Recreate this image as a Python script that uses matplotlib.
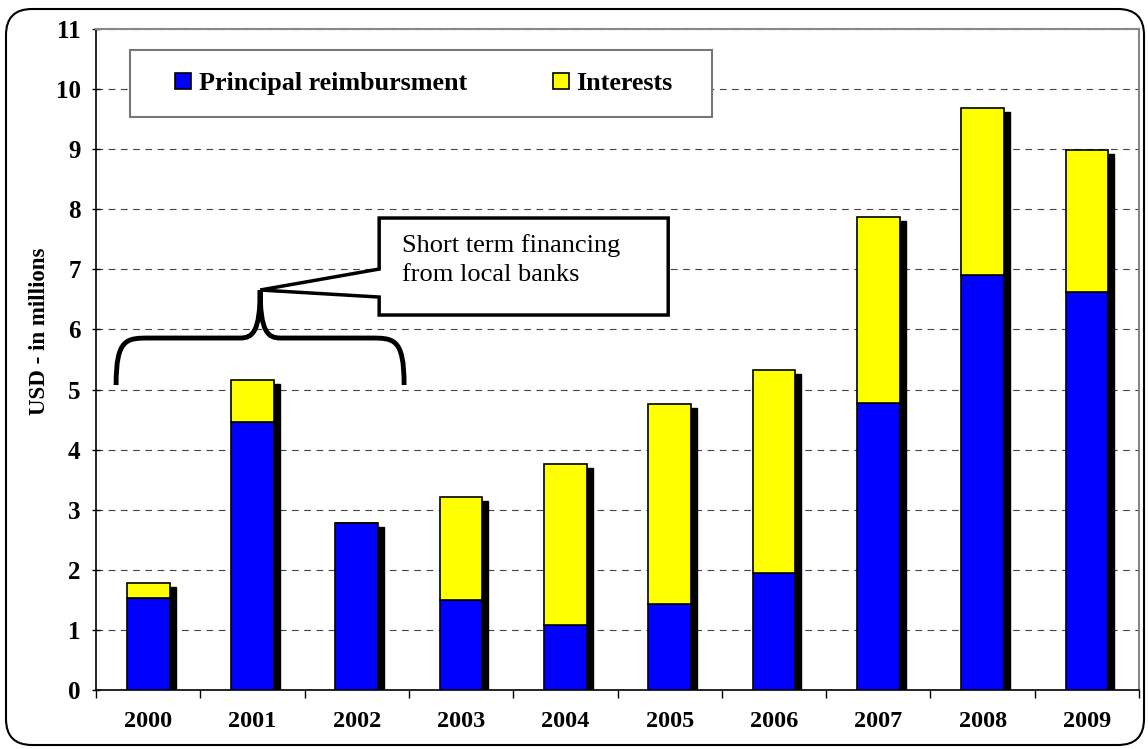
import matplotlib.pyplot as plt
from matplotlib.patches import Rectangle, Polygon, FancyBboxPatch, PathPatch
from matplotlib.path import Path
from matplotlib.transforms import ScaledTranslation, IdentityTransform

years = ['2000', '2001', '2002', '2003', '2004', '2005', '2006', '2007', '2008', '2009']
principal = [1.53, 4.46, 2.78, 1.50, 1.08, 1.43, 1.95, 4.78, 6.90, 6.62]
interests = [0.25, 0.70, 0.0, 1.71, 2.68, 3.33, 3.37, 3.09, 2.78, 2.36]
totals = [p + i for p, i in zip(principal, interests)]

plt.rcParams['font.family'] = 'Liberation Serif'

fig = plt.figure(figsize=(11.48, 7.49), dpi=100)
ax = fig.add_axes([0.0836, 0.0788, 0.9086, 0.8825])

x = list(range(len(years)))
w = 0.41

# drop shadow behind each stacked bar
shadow = ax.transData + ScaledTranslation(6 / 100, -4 / 100, fig.dpi_scale_trans)
ax.bar(x, totals, w, color='black', edgecolor='black', transform=shadow, zorder=2)

ax.bar(x, principal, w, color='#0000ff', edgecolor='black', linewidth=1.2,
       label='Principal reimbursment', zorder=3)
ax.bar(x, interests, w, bottom=principal, color='#ffff00', edgecolor='black',
       linewidth=1.2, label='Interests', zorder=3)

ax.set_xlim(-0.5, 9.5)
ax.set_ylim(0, 11)
ax.set_yticks(range(12))
ax.set_yticklabels([str(v) for v in range(12)], fontsize=18, fontweight='bold')
ax.set_xticks(x)
ax.set_xticklabels(years, fontsize=17.5, fontweight='bold')
ax.set_xticks([i - 0.5 for i in range(11)], minor=True)
ax.tick_params(axis='x', which='major', length=0, pad=15)
ax.tick_params(axis='x', which='minor', length=6, width=1, direction='out')
ax.tick_params(axis='y', length=6, width=1, direction='inout', pad=8)

ax.yaxis.grid(True, linestyle=(0, (6, 5)), color='#444444', linewidth=0.8)
ax.set_axisbelow(True)
for s in ['top', 'right']:
    ax.spines[s].set_color('#888888')
    ax.spines[s].set_linewidth(1.5)
for s in ['left', 'bottom']:
    ax.spines[s].set_linewidth(1.2)

ax.set_ylabel('USD - in millions', fontsize=16.5, fontweight='bold')
ax.yaxis.set_label_coords(-0.044, 0.543)

# legend box
ax.add_patch(Rectangle((0.0326, 0.867), 0.558, 0.101, transform=ax.transAxes,
                       facecolor='white', edgecolor='#777777', linewidth=1.5, zorder=4))
leg = ax.legend(loc='center', bbox_to_anchor=(0.3145, 0.9175), ncol=2, frameon=False,
                prop={'size': 18.8, 'weight': 'bold'}, handlelength=0.6, handleheight=0.6,
                handletextpad=0.3, columnspacing=3.3)
leg.set_zorder(5)

# curly brace over 2000-2002
bx0, bx1, tip = -0.307, 2.454, 1.074
yb, yh, yt = 5.075, 5.857, 6.656
verts = [(bx0, yb), (bx0, yh), (bx0 + 0.1, yh), (0.02, yh),
         (0.88, yh),
         (1.0, yh), (tip, 5.95), (tip, yt),
         (tip, 5.95), (1.15, yh), (1.27, yh),
         (2.13, yh),
         (bx1 - 0.1, yh), (bx1, yh), (bx1, yb)]
codes = [Path.MOVETO, Path.CURVE4, Path.CURVE4, Path.CURVE4,
         Path.LINETO,
         Path.CURVE4, Path.CURVE4, Path.CURVE4,
         Path.CURVE4, Path.CURVE4, Path.CURVE4,
         Path.LINETO,
         Path.CURVE4, Path.CURVE4, Path.CURVE4]
ax.add_patch(PathPatch(Path(verts, codes), facecolor='none', edgecolor='black',
                       linewidth=3.5, capstyle='butt', zorder=6))

# callout box
callout = [(2.215, 7.854), (4.986, 7.854), (4.986, 6.24), (2.215, 6.24),
           (2.215, 6.539), (tip, yt), (2.215, 7.005)]
ax.add_patch(Polygon(callout, closed=True, facecolor='white', edgecolor='black',
                     linewidth=2.5, joinstyle='miter', zorder=6))
ax.text(2.43, 7.58, 'Short term financing\nfrom local banks', fontsize=19,
        va='top', ha='left', linespacing=1.4, zorder=7)

# rounded outer frame
fig.patches.append(FancyBboxPatch((6, 4), 1138, 736, boxstyle='round,pad=0,rounding_size=26',
                                  transform=IdentityTransform(), facecolor='none',
                                  edgecolor='black', linewidth=1.5))

fig.savefig('out.png', dpi=100)
